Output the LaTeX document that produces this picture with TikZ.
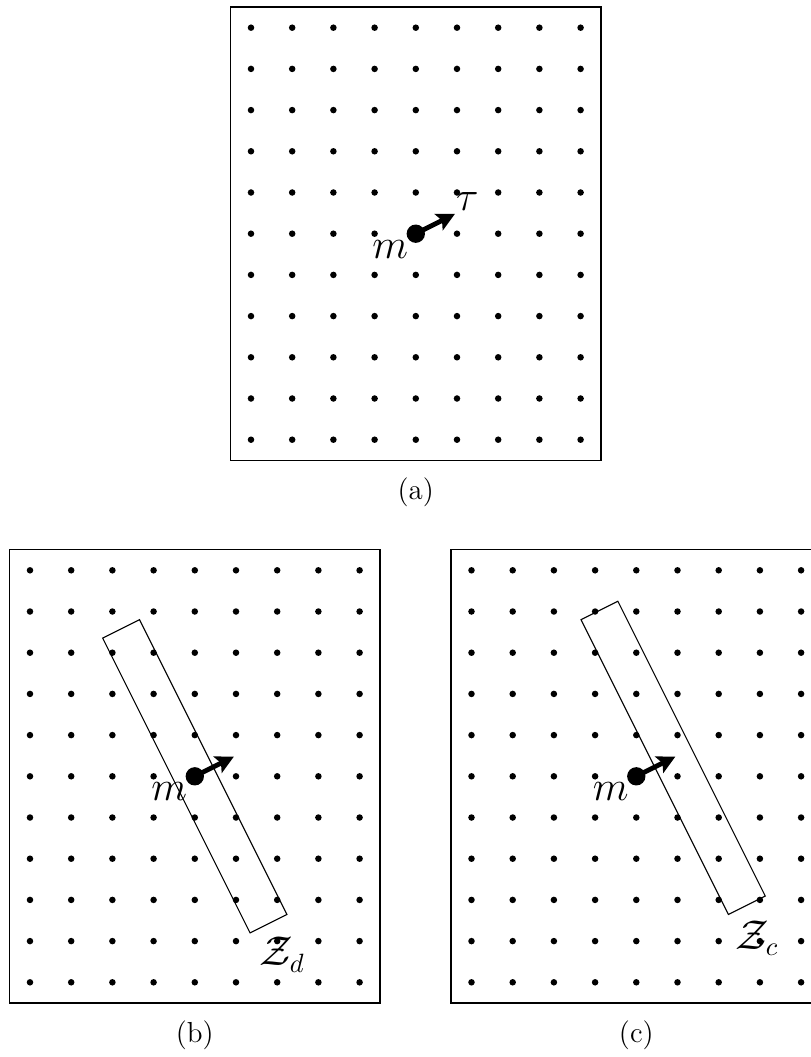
\documentclass[tikz,border=0pt]{standalone}
\usepackage{amsmath, amssymb}
\usepackage{tikz}
\usetikzlibrary{arrows.meta, positioning}

\begin{document}
\begin{tikzpicture}[
    x=6mm, y=6mm,
    site/.style={circle, fill, inner sep=0pt, minimum size=2.7pt},
    spin/.style={circle, fill, inner sep=0pt, minimum size=7.6pt},
    frame/.style={draw, line width=0.6pt},
    strip/.style={draw, line width=0.45pt},
    moment/.style={line width=2pt,
                   -{Stealth[length=7.5pt, width=7.5pt, inset=1.5pt]}},
    lbl/.style={inner sep=0pt, font=\fontsize{16}{19}\selectfont},
    caption/.style={inner sep=0pt, font=\fontsize{12}{14}\selectfont}
  ]
  \useasboundingbox (0,0) rectangle (19.684,-25.655);

  \begin{scope}[shift={(6.092,-0.672)}]
    \draw[frame] (-0.5,0.5) rectangle (8.5,-10.5);
    \foreach \i in {0,...,8}
      \foreach \j in {0,...,10}
        \node[site] at (\i,-\j) {};
    \node[spin] (ma) at (4,-5) {};
    \coordinate (ta) at (4.95,-4.52);
    \draw[moment] (ma.center) -- (ta);
    \node[lbl] (mla) at (3.38,-5.38) {$m$};
    \node[lbl] (tau) at (5.25,-4.22) {$\tau$};
    \node[caption] (capa) at (4,-11.28) {(a)};
  \end{scope}

  \begin{scope}[shift={(0.728,-13.842)}]
    \draw[frame] (-0.5,0.5) rectangle (8.5,-10.5);
    \foreach \i in {0,...,8}
      \foreach \j in {0,...,10}
        \node[site] at (\i,-\j) {};
    \draw[strip, shift={(4,-5)}, rotate=26.565] (-0.5,-4) rectangle (0.5,4);
    \node[spin] (mb) at (4,-5) {};
    \coordinate (tb) at (4.95,-4.52);
    \draw[moment] (mb.center) -- (tb);
    \node[lbl] (mlb) at (3.38,-5.38) {$m$};
    \node[lbl] (zd) at (6.12,-9.33) {$\mathcal{Z}_d$};
    \node[caption] (capb) at (4,-11.28) {(b)};
  \end{scope}

  \begin{scope}[shift={(11.444,-13.842)}]
    \draw[frame] (-0.5,0.5) rectangle (8.5,-10.5);
    \foreach \i in {0,...,8}
      \foreach \j in {0,...,10}
        \node[site] at (\i,-\j) {};
    \draw[strip, shift={(4,-5)}, rotate=26.565] (0.5,-4) rectangle (1.5,4);
    \node[spin] (mc) at (4,-5) {};
    \coordinate (tc) at (4.95,-4.52);
    \draw[moment] (mc.center) -- (tc);
    \node[lbl] (mlc) at (3.38,-5.38) {$m$};
    \node[lbl] (zc) at (6.93,-8.93) {$\mathcal{Z}_c$};
    \node[caption] (capc) at (4,-11.28) {(c)};
  \end{scope}
\end{tikzpicture}
\end{document}
